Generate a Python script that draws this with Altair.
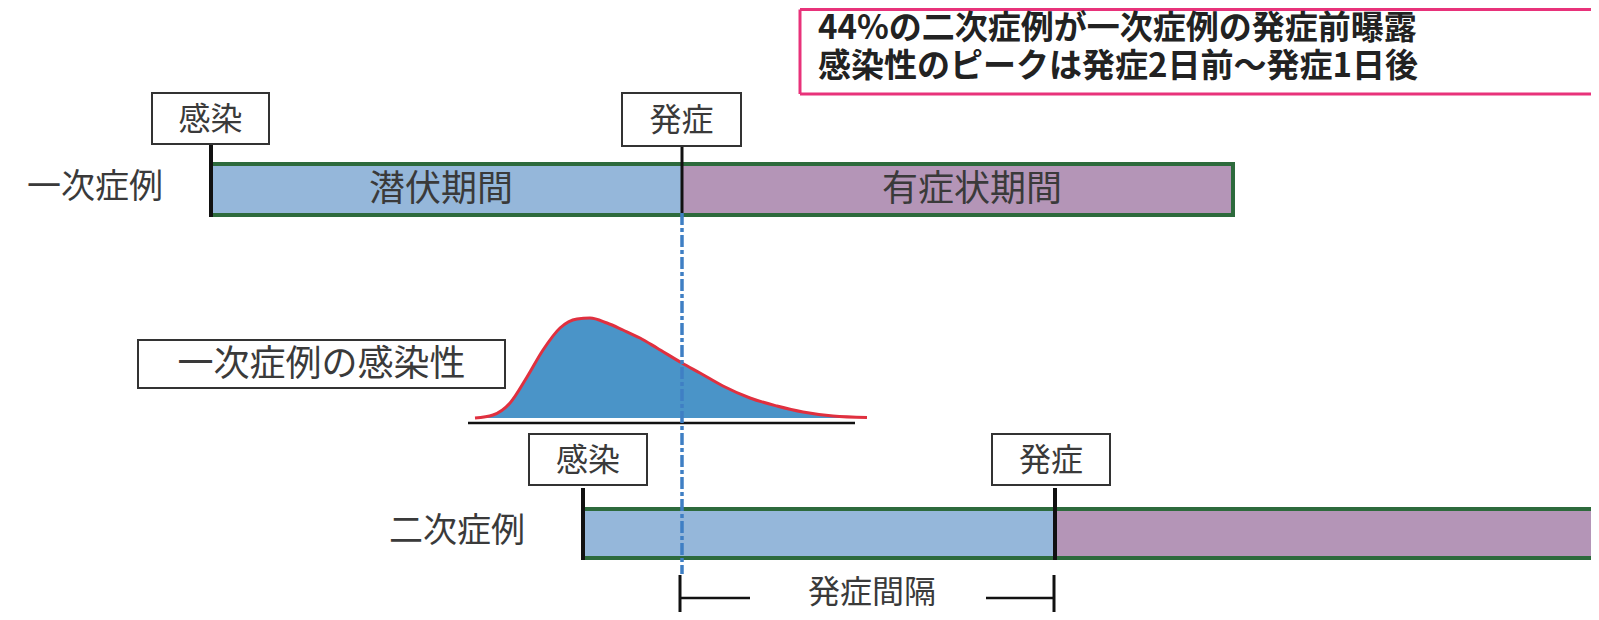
import altair as alt
import pandas as pd

FONT = "Noto Sans CJK JP"

# ---- data (diagram coordinates along the timeline / vertical layout) ----
# labelled boxes
box_text = ["感染", "発症", "一次症例の感染性", "感染", "発症"]
box_x1 = [152, 622, 138, 529, 992]
box_x2 = [269, 741, 505, 647, 1110]
box_y1 = [93, 93, 340, 434, 434]
box_y2 = [144, 146, 388, 485, 485]
box_fs = [32, 32, 36, 32, 32]

# period bars (fills)
bar_x1 = [211, 682, 583, 1055]
bar_x2 = [682, 1233, 1055, 1591]
bar_y1 = [164, 164, 509, 509]
bar_y2 = [215, 215, 558, 558]
bar_phase = ["latent", "symptomatic", "latent", "symptomatic"]

# green outlines of the bars
edge_x1 = [211, 211, 1233, 583, 583]
edge_x2 = [1235, 1235, 1233, 1591, 1591]
edge_y1 = [164, 215, 162, 509, 558]
edge_y2 = [164, 215, 217, 509, 558]

# infectiousness curve of the primary case
curve_x = [475, 493, 510, 527, 543, 560, 577, 590, 607, 623, 640, 657, 682,
           700, 723, 750, 777, 803, 833, 867]
curve_h = [0, 3, 15, 41, 68, 90, 99, 100, 95, 88, 80, 70, 55, 45, 32, 20,
           12, 6, 2, 0.5]
curve_base = 418

# black event markers / bracket
rule_x1 = [211, 682, 583, 1055, 680, 1054, 680, 986, 468]
rule_x2 = [211, 682, 583, 1055, 680, 1054, 750, 1054, 855]
rule_y1 = [144, 146, 488, 488, 575, 575, 598, 598, 423]
rule_y2 = [217, 213, 560, 560, 612, 612, 598, 598, 423]
rule_w = [4, 3, 4, 4, 3, 3, 2.5, 2.5, 2.5]

# free labels
lab_text = ["一次症例", "潜伏期間", "有症状期間", "二次症例", "発症間隔"]
lab_x = [163, 441, 972, 525, 872]
lab_y = [188, 190, 190, 532, 593]
lab_align = ["right", "center", "center", "right", "center"]
lab_fs = [34, 36, 36, 34, 32]

# note box (pink) and its two-line text
note_lines = ["44%の二次症例が一次症例の発症前曝露",
              "感染性のピークは発症2日前～発症1日後"]
note_edge_x1 = [800, 800, 800]
note_edge_x2 = [1591, 1591, 800]
note_edge_y1 = [9.5, 94, 9.5]
note_edge_y2 = [9.5, 94, 94]

# ---- scales ----
xs = alt.Scale(domain=[8, 1591], nice=False, zero=False)
ys = alt.Scale(domain=[8, 612], nice=False, zero=False, reverse=True)


def X(f):
    return alt.X(f, type="quantitative", scale=xs, axis=None)


def Y(f):
    return alt.Y(f, type="quantitative", scale=ys, axis=None)


boxes = pd.DataFrame(dict(t=box_text, x1=box_x1, x2=box_x2, y1=box_y1,
                          y2=box_y2, fs=box_fs))
boxes["xm"] = (boxes.x1 + boxes.x2) / 2
boxes["ym"] = (boxes.y1 + boxes.y2) / 2 + 1

bars = pd.DataFrame(dict(x1=bar_x1, x2=bar_x2, y1=bar_y1, y2=bar_y2,
                         phase=bar_phase))
edges = pd.DataFrame(dict(x1=edge_x1, x2=edge_x2, y1=edge_y1, y2=edge_y2))
curve = pd.DataFrame(dict(x=curve_x, y=[curve_base - h for h in curve_h],
                          b=[curve_base] * len(curve_x)))
rules = pd.DataFrame(dict(x1=rule_x1, x2=rule_x2, y1=rule_y1, y2=rule_y2,
                          w=rule_w))
labs = pd.DataFrame(dict(t=lab_text, x=lab_x, y=lab_y, a=lab_align, fs=lab_fs))
notes = pd.DataFrame(dict(t=["\n".join(note_lines)], x=[818], y=[13]))
note_edges = pd.DataFrame(dict(x1=note_edge_x1, x2=note_edge_x2,
                               y1=note_edge_y1, y2=note_edge_y2))

note_box = alt.Chart(note_edges).mark_rule(
    color="#E8327A", strokeWidth=3
).encode(x=X("x1"), x2="x2", y=Y("y1"), y2="y2")

note_text = alt.Chart(notes).mark_text(
    font=FONT, fontSize=33, fontWeight="bold", align="left",
    baseline="top", color="#222222", lineBreak="\n", lineHeight=38
).encode(x=X("x"), y=Y("y"), text="t")

bar_layer = alt.Chart(bars).mark_rect().encode(
    x=X("x1"), x2="x2", y=Y("y1"), y2="y2",
    fill=alt.Fill("phase:N", scale=alt.Scale(
        domain=["latent", "symptomatic"], range=["#95B7DA", "#B495B7"]),
        legend=None),
)

edge_layer = alt.Chart(edges).mark_rule(
    color="#2D6A3C", strokeWidth=4
).encode(x=X("x1"), x2="x2", y=Y("y1"), y2="y2")

area = alt.Chart(curve).mark_area(
    color="#4A94C8", interpolate="monotone", opacity=1
).encode(x=X("x"), y=Y("y"), y2="b")

area_line = alt.Chart(curve).mark_line(
    color="#E0303F", strokeWidth=3, interpolate="monotone"
).encode(x=X("x"), y=Y("y"))

box_layer = alt.Chart(boxes).mark_rect(
    fill="white", stroke="#333333", strokeWidth=2
).encode(x=X("x1"), x2="x2", y=Y("y1"), y2="y2")

box_txt = alt.Chart(boxes).mark_text(
    font=FONT, baseline="middle", align="center", color="#3a3a3a"
).encode(x=X("xm"), y=Y("ym"), text="t",
         size=alt.Size("fs:Q", scale=None, legend=None))

rule_layer = alt.Chart(rules).mark_rule(color="#111111").encode(
    x=X("x1"), x2="x2", y=Y("y1"), y2="y2",
    strokeWidth=alt.StrokeWidth("w:Q", scale=None, legend=None))

blue_line = alt.Chart(pd.DataFrame(dict(x=[682], y1=[213], y2=[574]))).mark_rule(
    color="#3F7FC4", strokeWidth=3.5, strokeDash=[12, 3, 4, 3]
).encode(x=X("x"), y=Y("y1"), y2="y2")

lab_right = alt.Chart(labs[labs.a == "right"]).mark_text(
    font=FONT, baseline="middle", align="right", color="#3a3a3a"
).encode(x=X("x"), y=Y("y"), text="t",
         size=alt.Size("fs:Q", scale=None, legend=None))

lab_center = alt.Chart(labs[labs.a == "center"]).mark_text(
    font=FONT, baseline="middle", align="center", color="#3a3a3a"
).encode(x=X("x"), y=Y("y"), text="t",
         size=alt.Size("fs:Q", scale=None, legend=None))

chart = alt.layer(
    note_box, note_text, bar_layer, edge_layer, area, area_line, rule_layer,
    blue_line, box_layer, box_txt, lab_right, lab_center
).properties(
    width=1583, height=604, padding=0, autosize="none", background="white"
).configure_view(stroke=None)

chart.save("out.html", embed_options={"renderer": "svg", "actions": False})
